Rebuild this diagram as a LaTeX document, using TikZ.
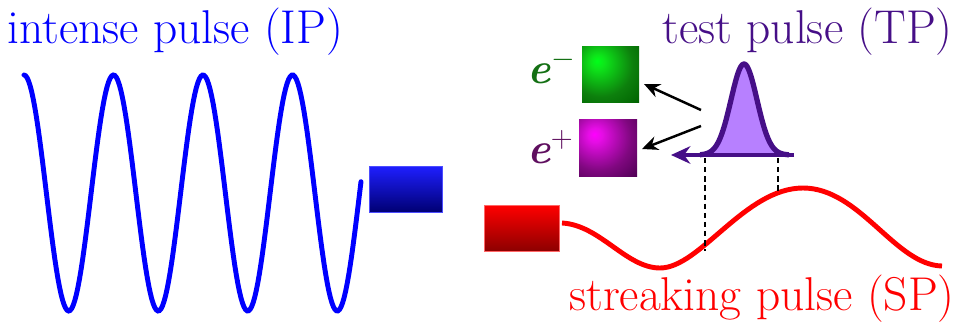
\documentclass[tikz,border=0pt]{standalone}
\usetikzlibrary{arrows.meta}
\definecolor{ipblue}{RGB}{0,0,255}
\definecolor{tppurple}{RGB}{70,15,135}
\definecolor{tpfill}{RGB}{183,128,255}
\definecolor{spred}{RGB}{255,0,0}
\definecolor{elgreen}{RGB}{20,112,20}
\definecolor{pospurple}{RGB}{95,15,95}
\pgfdeclareradialshading{gsq}{\pgfpoint{-12bp}{12bp}}{rgb(0bp)=(0,1,0.1); rgb(6bp)=(0.05,0.9,0.1); rgb(28bp)=(0.05,0.5,0.05); rgb(45bp)=(0,0.38,0); rgb(100bp)=(0,0.36,0)}
\pgfdeclareradialshading{msq}{\pgfpoint{-12bp}{12bp}}{rgb(0bp)=(1,0,1); rgb(6bp)=(0.9,0.05,0.9); rgb(28bp)=(0.5,0.03,0.5); rgb(45bp)=(0.3,0,0.32); rgb(100bp)=(0.28,0,0.3)}
\tikzset{
  lbl/.style={font=\fontsize{27}{31}\selectfont, inner sep=0pt},
  elbl/.style={font=\fontsize{25}{30}\selectfont\bfseries\itshape, inner sep=0pt},
  wave/.style={line width=2.8pt, line cap=round},
  srcbox/.style={minimum height=0.92cm, inner sep=0pt},
  sqbox/.style={inner sep=0pt},
  emit/.style={black, line width=1.4pt, -{Stealth[length=9pt,width=8pt]}},
  drop/.style={black, line width=1.2pt, dash pattern=on 3pt off 2.2pt}
}
\begin{document}
\begin{tikzpicture}[x=0.02cm,y=-0.02cm]
\useasboundingbox (0,0) rectangle (960,325);
% texts
\node[lbl, text=ipblue, anchor=base west] (iplbl) at (7,43) {intense pulse (IP)};
\node[lbl, text=tppurple, anchor=base east] (tplbl) at (953,43) {test pulse (TP)};
\node[lbl, text=spred, anchor=base east] (splbl) at (955,310) {streaking pulse (SP)};
\node[elbl, text=elgreen, anchor=base east] (elab) at (576,83) {e$^{-}$};
\node[elbl, text=pospurple, anchor=base east] (plab) at (574,163) {e$^{+}$};
% source boxes
\node[srcbox, minimum width=1.46cm, top color=ipblue!88!white, bottom color=ipblue!45!black, draw=ipblue!70!white, line width=0.4pt] (ipbox) at (405.5,189) {};
\node[srcbox, minimum width=1.5cm, top color=spred, bottom color=spred!55!black, draw=spred!60!white, line width=0.4pt] (spbox) at (521.5,228) {};
% detector squares
\node[sqbox, minimum width=1.14cm, minimum height=1.14cm, shading=gsq] (gsqn) at (610.5,74.5) {};
\node[sqbox, minimum width=1.16cm, minimum height=1.16cm, shading=msq] (msqn) at (608,148) {};
% intense pulse wave
\draw[wave, ipblue] plot[domain=24:361, samples=220] (\x,{193-118*cos(4.0223*(\x-24))});
% streaking pulse
\coordinate (spstart) at (562,223);
\draw[wave, spred, line cap=butt] (spstart) .. controls (600,225) and (626,268) .. (660,268)
  .. controls (700,268) and (745,188) .. (803,188)
  .. controls (860,188) and (895,265) .. (942,266);
% test pulse
\fill[tpfill] plot[domain=700:789, samples=90] (\x,{155-91*exp(-((\x-744)/13)^2/2)}) -- cycle;
\coordinate (tpright) at (794,155);
\coordinate (tpleft) at (671,155);
\draw[tppurple, line width=2.2pt, -{Stealth[length=11pt,width=10pt]}] (tpright) -- (tpleft);
\draw[tppurple, line width=3pt, line join=round] plot[domain=700:789, samples=90] (\x,{155-91*exp(-((\x-744)/13)^2/2)});
% emission arrows
\coordinate (emA) at (701,110);
\coordinate (emB) at (701,126);
\coordinate (emAend) at (644,84);
\coordinate (emBend) at (642,149);
\draw[emit] (emA) -- (emAend);
\draw[emit] (emB) -- (emBend);
% dashed drop lines
\coordinate (d1t) at (705,158);
\coordinate (d1b) at (705,251);
\coordinate (d2t) at (778,158);
\coordinate (d2b) at (778,192);
\draw[drop] (d1t) -- (d1b);
\draw[drop] (d2t) -- (d2b);
\end{tikzpicture}
\end{document}
